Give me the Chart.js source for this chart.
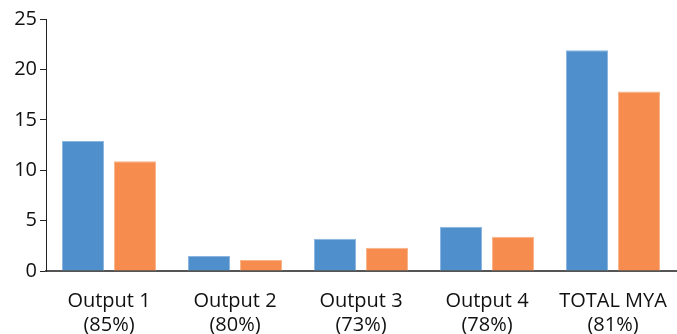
<!DOCTYPE html>
<html>
<head>
<meta charset="utf-8">
<script src="https://cdn.jsdelivr.net/npm/chart.js@4/dist/chart.umd.min.js"></script>
<style>
  html, body { margin: 0; padding: 0; background: #ffffff; }
  #wrap { width: 677px; height: 334px; position: relative; }
</style>
</head>
<body>
<div id="wrap"><canvas id="chart"></canvas></div>
<script>
// Categories (two-line labels) and the two series
const categories = [
  ["Output 1", "(85%)"],
  ["Output 2", "(80%)"],
  ["Output 3", "(73%)"],
  ["Output 4", "(78%)"],
  ["TOTAL MYA", "(81%)"]
];
const seriesBlue = [12.9, 1.5, 3.2, 4.4, 21.9];
const seriesOrange = [10.9, 1.1, 2.3, 3.4, 17.8];
const yTicks = [0, 5, 10, 15, 20, 25];

const FONT = { family: "'Open Sans', sans-serif", size: 20, lineHeight: 1.2 };

new Chart(document.getElementById("chart"), {
  type: "bar",
  data: {
    labels: categories,
    datasets: [
      {
        data: seriesBlue,
        backgroundColor: "#4f8fcc",
        borderColor: "#8cb6e0",
        borderWidth: 1
      },
      {
        data: seriesOrange,
        backgroundColor: "#f68c4e",
        borderColor: "#f9b48a",
        borderWidth: 1
      }
    ]
  },
  options: {
    responsive: true,
    maintainAspectRatio: false,
    animation: false,
    categoryPercentage: 0.825,
    barPercentage: 0.81,
    layout: { padding: { top: 19, right: 1, left: 0, bottom: 0 } },
    plugins: {
      legend: { display: false },
      tooltip: { enabled: false }
    },
    scales: {
      x: {
        grid: { display: false, drawTicks: false },
        border: { display: true, color: "#555555", width: 2 },
        ticks: {
          color: "#111111",
          font: FONT,
          padding: 18,
          autoSkip: false,
          maxRotation: 0
        },
        afterFit: (s) => {
          s.height = 63;
          s.paddingLeft = 0;
          s.paddingRight = 0;
        }
      },
      y: {
        min: 0,
        max: 25,
        afterBuildTicks: (s) => { s.ticks = yTicks.map(v => ({ value: v })); },
        grid: {
          drawOnChartArea: false,
          drawTicks: true,
          tickLength: 6,
          tickColor: "#222222"
        },
        border: { display: true, color: "#222222", width: 1 },
        ticks: {
          color: "#111111",
          font: FONT,
          padding: 3
        },
        afterFit: (s) => {
          s.width = 46;
          s.paddingTop = 0;
          s.paddingBottom = 0;
        }
      }
    }
  }
});
</script>
</body>
</html>
